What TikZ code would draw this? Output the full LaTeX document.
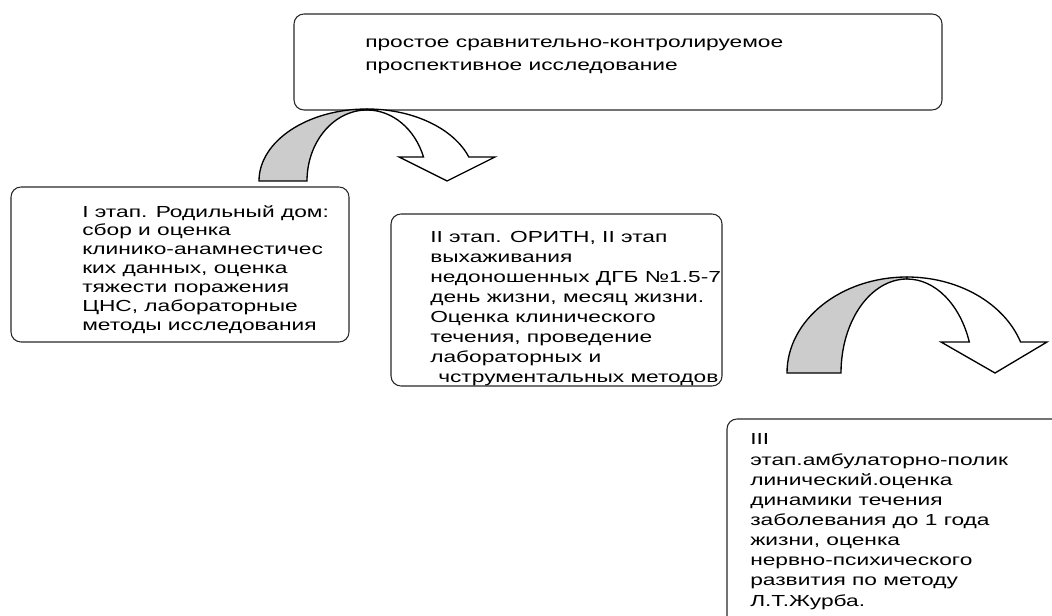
\documentclass[tikz,border=0pt]{standalone}
\usepackage{fontspec}
\setmainfont{Liberation Sans}[FakeStretch=1.42]
\definecolor{bandgray}{RGB}{204,204,204}
\definecolor{boxline}{RGB}{40,40,40}
\tikzset{
  box/.style={draw=boxline, line width=0.8pt, rounded corners=7.5pt, inner sep=0pt, fill=white},
  txt/.style={anchor=base west, inner sep=0pt, align=left, text=black},
  band/.style={draw=black, line width=1pt, line join=miter},
}
\begin{document}
\begin{tikzpicture}[x=0.75pt,y=-0.75pt]
\useasboundingbox (0,0) rectangle (1052,616);
\clip (0,0) rectangle (1052,616);
\fill[white] (0,0) rectangle (1052,616);

% boxes
\node[box, minimum width=486pt, minimum height=72pt] (b0) at (618,62) {};
\node[box, minimum width=253.5pt, minimum height=116.25pt] (b1) at (180,264.5) {};
\node[box, minimum width=248.25pt, minimum height=129pt] (b2) at (556.5,300) {};
\node[box, minimum width=279.75pt, minimum height=210.75pt] (b3) at (913.5,559.5) {};

% texts (anchor = baseline of the last line)
\node[txt, font=\fontsize{12}{17.25}\selectfont] (t0) at (365,71)
  {простое сравнительно-контролируемое\\проспективное исследование};
\node[txt, font=\fontsize{12}{14.1}\selectfont] (t1) at (82,330)
  {I этап. Родильный дом:\\сбор и оценка\\клинико-анамнестичес\\ких данных, оценка\\тяжести поражения\\ЦНС, лабораторные\\методы исследования};
\node[txt, font=\fontsize{12}{14.9}\selectfont] (t2) at (430,382)
  {II этап. ОРИТН, II этап\\выхаживания\\недоношенных ДГБ №1.5-7\\день жизни, месяц жизни.\\Оценка клинического\\течения, проведение\\лабораторных и\\\hspace*{6pt}чструментальных методов};
\node[txt, font=\fontsize{12}{15.1}\selectfont] (t3) at (750,606)
  {III\\этап.амбулаторно-полик\\линический.оценка\\динамики течения\\заболевания до 1 года\\жизни, оценка\\нервно-психического\\развития по методу\\Л.Т.Журба.};

% curved arrow 1
\filldraw[band, fill=bandgray] (259,181) arc[start angle=180, end angle=270, x radius=108, y radius=72]
  -- (367,110) arc[start angle=270, end angle=180, x radius=60, y radius=71] -- cycle;
\filldraw[band, fill=white] (367,109) arc[start angle=270, end angle=340.53, x radius=108, y radius=72]
  -- (495,157) -- (447,181) -- (399,157) -- (423.5,157)
  arc[start angle=340.24, end angle=270, x radius=60, y radius=71] -- cycle;

% curved arrow 2
\filldraw[band, fill=bandgray] (787,373) arc[start angle=180, end angle=270, x radius=120, y radius=96]
  -- (907,279) arc[start angle=270, end angle=180, x radius=66, y radius=94] -- cycle;
\filldraw[band, fill=white] (907,277) arc[start angle=270, end angle=341.16, x radius=120, y radius=96]
  -- (1047,342) -- (995,373) -- (941,342) -- (969.3,342)
  arc[start angle=340.74, end angle=270, x radius=66, y radius=94] -- cycle;
\end{tikzpicture}
\end{document}
